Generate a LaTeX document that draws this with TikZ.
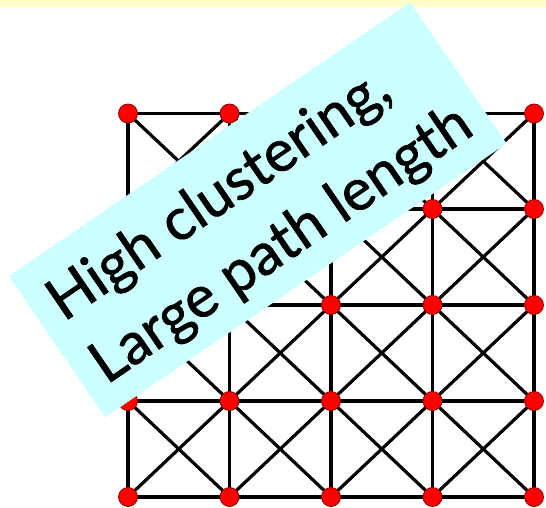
\documentclass[tikz,border=0pt]{standalone}
\usepackage{fontspec}
\setmainfont{Lato}
\newfontfamily\lblfont{Lato}[FakeBold=1.2]
\definecolor{bandyellow}{HTML}{FFFFCC}
\definecolor{boxcyan}{HTML}{CCFFFF}
\definecolor{nodered}{HTML}{FF0000}
\definecolor{nodeedge}{HTML}{8A0000}
\tikzset{
  vertex/.style={circle, fill=nodered, draw=nodeedge, line width=0.8pt, inner sep=0pt, minimum size=19pt},
  link/.style={draw=black, line width=3.2pt},
  labelbox/.style={fill=boxcyan, rotate=34.3, minimum width=486pt, minimum height=171pt,
    inner sep=0pt, align=left, font=\lblfont\fontsize{58.5}{76}\selectfont}
}
\begin{document}
\begin{tikzpicture}[x=1pt,y=-1pt]
\useasboundingbox (0,0) rectangle (546,508);
\fill[bandyellow] (0,0) rectangle (546,7);
% vertices
\foreach \i/\x in {0/128,1/229.5,2/331,3/432.5,4/534}{
  \foreach \j/\y in {0/113.5,1/209,2/305,3/401,4/497}{
    \coordinate (c-\i-\j) at (\x,\y);
  }
}
% edges
\foreach \i in {0,...,4}{
  \foreach \j [count=\k] in {0,...,3}{
    \draw[link] (c-\i-\j) -- (c-\i-\k);
    \draw[link] (c-\j-\i) -- (c-\k-\i);
  }
}
\foreach \i [count=\ii] in {0,...,3}{
  \foreach \j [count=\jj] in {0,...,3}{
    \draw[link] (c-\i-\j) -- (c-\ii-\jj);
    \draw[link] (c-\ii-\j) -- (c-\i-\jj);
  }
}
\foreach \i in {0,...,4}{
  \foreach \j in {0,...,4}{
    \node[vertex] (n-\i-\j) at (c-\i-\j) {};
  }
}
\node[labelbox] (lbl) at (257.7,209.8) {\rule{0pt}{54pt}High clustering,\\Large path length};
\end{tikzpicture}
\end{document}
